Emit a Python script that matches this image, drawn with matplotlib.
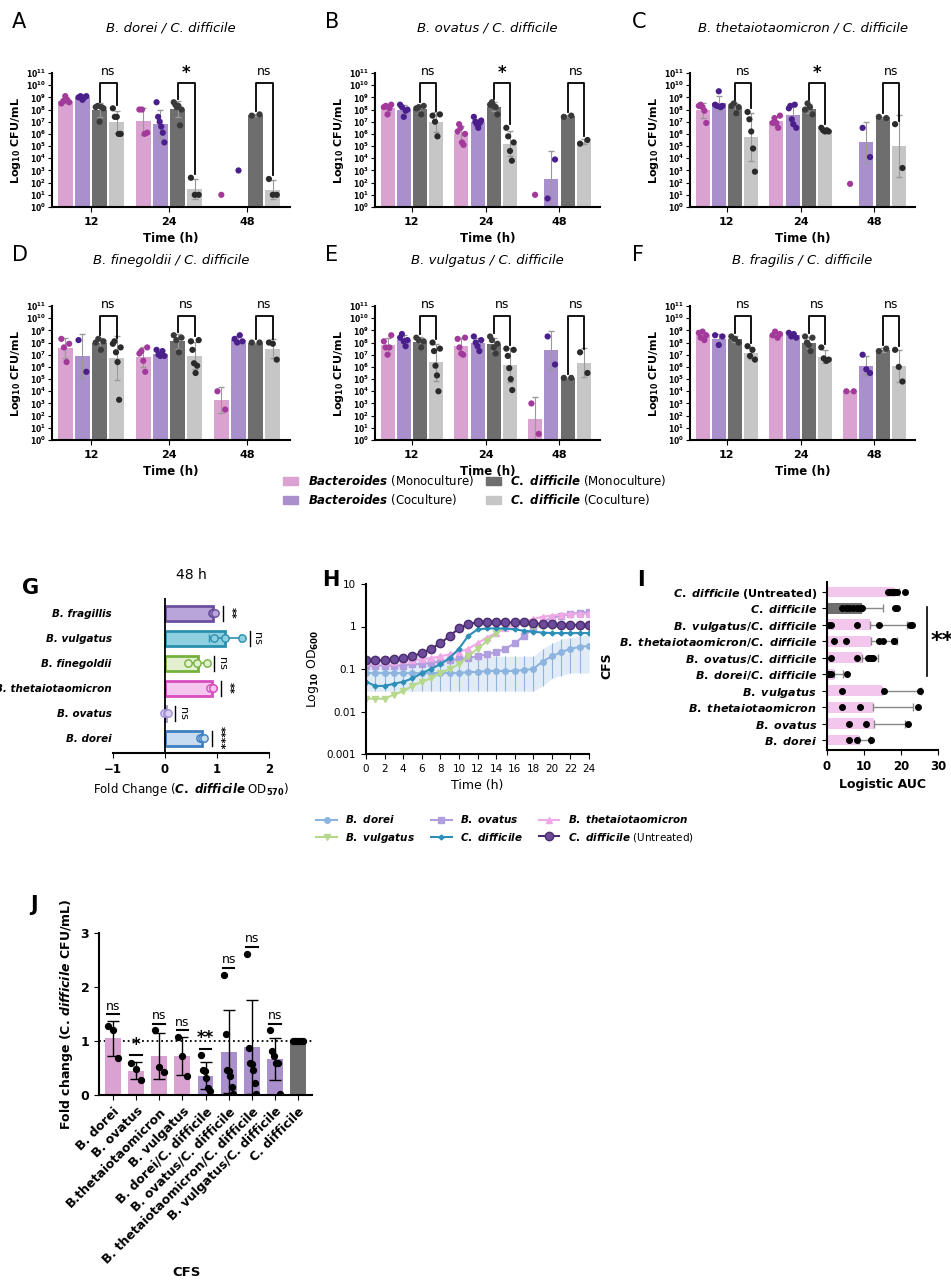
import numpy as np
import matplotlib
matplotlib.use("Agg")
import matplotlib.pyplot as plt
from matplotlib.patches import Patch
from matplotlib.lines import Line2D

plt.rcParams['font.family'] = ['DejaVu Sans']
plt.rcParams['font.weight'] = 'bold'
plt.rcParams['axes.labelweight'] = 'bold'
plt.rcParams['axes.linewidth'] = 1.5

W, H = 951, 1280
fig = plt.figure(figsize=(W/100, H/100), dpi=100)

def axpx(x0, y0, x1, y1):
    return fig.add_axes([x0/W, 1-y1/H, (x1-x0)/W, (y1-y0)/H])

# ---------------- Data: panels A-F (log10 CFU/mL) ----------------
times = ["12", "24", "48"]
groups = ["BM", "BC", "CM", "CC"]
panel_titles = ["B. dorei / C. difficile", "B. ovatus / C. difficile",
                "B. thetaiotaomicron / C. difficile", "B. finegoldii / C. difficile",
                "B. vulgatus / C. difficile", "B. fragilis / C. difficile"]
panel_sig = [["ns", "*", "ns"], ["ns", "*", "ns"], ["ns", "*", "ns"],
             ["ns", "ns", "ns"], ["ns", "ns", "ns"], ["ns", "ns", "ns"]]
A_pts = [[[8.5,8.7,9.1,8.8,8.6],[9.0,9.1,8.8,9.0,9.1],[8.2,8.3,7.0,8.2,8.1],[8.1,7.4,7.4,6.0,6.0]],
         [[8.0,8.0,6.0,6.1],[8.6,7.4,7.0,6.6,6.1,5.3],[8.6,8.4,8.2,8.3,6.7,8.0],[2.4,1.0,1.0]],
         [[1.0],[3.0],[7.5,7.6],[2.3,1.0,1.0]]]
B_pts = [[[8.2,8.3,7.6,8.1,8.4],[8.4,8.2,7.4,7.9,8.0],[8.1,8.2,7.6,8.3],[7.5,7.0,5.8,7.6]],
         [[6.2,6.8,6.5,5.3,5.1,6.0],[7.4,7.0,6.8,6.5,6.9,7.1],[8.4,8.6,8.3,8.2,7.6],[6.5,5.8,4.6,3.8,5.3]],
         [[1.0],[0.7,3.9],[7.4,7.5],[5.2,5.5]]]
C_pts = [[[8.3,8.4,8.2,7.9,6.9],[8.4,8.3,9.5,8.2,8.3],[8.3,8.5,7.7,8.2],[7.8,7.2,6.2,4.8,2.9]],
         [[6.9,7.3,6.9,6.5,7.5],[8.1,8.3,7.2,6.8,8.4,6.5],[8.0,8.5,8.2,7.6],[6.5,6.3,6.2,6.3,6.2]],
         [[1.9],[6.5,4.1],[7.4,7.3],[6.8,3.2]]]
D_pts = [[[8.3,7.6,6.4,7.9],[8.2,5.6],[8.0,8.3,7.4,8.1],[7.9,8.1,7.2,6.4,3.3,7.6]],
         [[7.1,7.3,6.5,5.6,7.6],[7.4,7.0,6.9,7.3,6.9],[8.6,8.2,7.2,8.4],[8.1,7.4,6.3,5.5,6.1,8.2]],
         [[4.0,2.5],[8.3,8.0,8.6,8.1],[8.0,8.0],[8.0,7.9,6.6]]]
E_pts = [[[8.1,7.6,7.0,7.6,8.6],[8.4,8.7,8.1,7.7,8.2],[8.4,8.2,7.6,8.1],[8.0,7.3,6.1,5.3,4.0,7.5]],
         [[8.3,7.6,7.1,7.0,8.4],[8.5,8.0,7.7,7.3,8.2],[8.5,8.2,7.6,7.1,7.9],[7.5,6.9,5.9,5.0,4.1,7.4]],
         [[3.0,0.5],[8.5,6.2],[5.1,5.1],[7.2,5.5]]]
F_pts = [[[8.8,8.4,8.9,8.2,8.6],[8.6,7.8,8.5],[8.5,8.3,8.0],[7.7,6.9,7.4,6.6]],
         [[8.6,8.9,8.4,8.7],[8.8,8.5,8.7,8.4],[8.5,8.0,7.8,7.3,8.4],[7.6,6.7,6.5,6.6]],
         [[4.0,4.0],[7.0,5.8,5.5],[7.3,7.5],[7.4,6.0,4.8]]]
all_pts = [A_pts, B_pts, C_pts, D_pts, E_pts, F_pts]

bar_cols = ['#d9a2d0', '#a98fcb', '#6e6e6e', '#c6c6c6']
pt_cols = ['#a3399a', '#4a1f8c', '#3a3a3a', '#2a2a2a']

pos = [(52, 73, 290, 207), (375, 73, 600, 207), (690, 73, 915, 207),
       (52, 306, 290, 440), (375, 306, 600, 440), (690, 306, 915, 440)]
letters_pos = [(12, 22), (325, 22), (632, 22), (12, 255), (325, 255), (632, 255)]
offs = [-0.33, -0.11, 0.11, 0.33]
bw = 0.19
for p in range(6):
    ax = axpx(*pos[p])
    pts = all_pts[p]
    for t in range(3):
        for g in range(4):
            v = np.array(pts[t][g])
            x = t + offs[g]
            if len(v) >= 2:
                m = v.mean(); sd = v.std(ddof=1)
                ax.bar(x, m, width=bw, color=bar_cols[g], zorder=1)
                ax.errorbar(x, m, yerr=sd, color='#999999', lw=0.8, capsize=2, zorder=2)
            jit = np.linspace(-0.05, 0.05, len(v)) if len(v) > 1 else [0]
            ax.scatter(x + np.array(jit), v, s=20, color=pt_cols[g], zorder=3, edgecolors='none')
        xl, xr = t + offs[2], t + offs[3]
        ytop = 10.2
        yl = max(max(pts[t][2]), np.mean(pts[t][2])) + 0.3
        yr = max(max(pts[t][3]), np.mean(pts[t][3])) + 0.3
        ax.plot([xl, xl, xr, xr], [yl, ytop, ytop, yr], color='k', lw=1.3, clip_on=False)
        s = panel_sig[p][t]
        ax.text((xl+xr)/2, ytop + (0.4 if s == 'ns' else 0.1), s, ha='center', va='bottom',
                fontsize=12 if s == '*' else 9, fontweight='normal' if s == 'ns' else 'bold')
    ax.set_ylim(0, 11)
    ax.set_xlim(-0.5, 2.55)
    ax.set_yticks(range(12))
    ax.set_yticklabels([r'$\mathbf{10^{%d}}$' % i for i in range(12)], fontsize=5.5)
    ax.tick_params(axis='y', length=3, pad=1.5)
    ax.set_xticks([0, 1, 2]); ax.set_xticklabels(times, fontsize=8)
    ax.set_xlabel("Time (h)", fontsize=8.5)
    ax.set_ylabel(r"Log$_{\mathbf{10}}$ CFU/mL", fontsize=8, labelpad=2)
    ax.spines['top'].set_visible(False); ax.spines['right'].set_visible(False)
    ax.set_title(panel_titles[p], style='italic', fontweight='normal', fontsize=9.5, pad=30)
    fig.text(letters_pos[p][0]/W, 1-letters_pos[p][1]/H, "ABCDEF"[p], fontsize=15,
             fontweight='normal', va='center')

leg_labels = [r"$\mathit{Bacteroides}$ (Monoculture)", r"$\mathit{Bacteroides}$ (Coculture)",
              r"$\mathit{C.\ difficile}$ (Monoculture)", r"$\mathit{C.\ difficile}$ (Coculture)"]
handles = [Patch(color=c) for c in bar_cols]
fig.legend(handles, leg_labels, loc='center', bbox_to_anchor=(475/W, 1-490/H), ncol=2,
           frameon=False, prop={'weight': 'normal', 'size': 8.5},
           columnspacing=1.0, handlelength=1.3, labelspacing=0.3)

# ---------------- Panel G ----------------
G_cats = ["B. dorei", "B. ovatus", "B. thetaiotaomicron", "B. finegoldii", "B. vulgatus", "B. fragillis"]
G_vals = [0.72, 0.02, 0.90, 0.63, 1.15, 0.93]
G_pts = [[0.68, 0.72, 0.75], [-0.02, 0.03, 0.05], [0.86, 0.92, 0.93],
         [0.45, 0.62, 0.80], [0.95, 1.15, 1.48], [0.90, 0.93, 0.96]]
G_err = [0.04, 0.04, 0.04, 0.18, 0.30, 0.04]
G_sig = ["****", "ns", "**", "ns", "ns", "**"]
G_edge = ['#3d7fc1', '#a38fd6', '#d64fbd', '#73b23e', '#2b8fae', '#6b4f9e']
G_fill = ['#c7dbf1', '#d9cff0', '#f7c6ee', '#e3f1d0', '#8fd0e0', '#b9a5d8']
ax = axpx(113, 598, 269, 753)
y = np.arange(len(G_cats))
ax.barh(y, G_vals, height=0.6, color=G_fill, edgecolor=G_edge, linewidth=2, zorder=1)
for i in range(len(G_cats)):
    ax.errorbar(G_vals[i], i, xerr=G_err[i], color=G_edge[i], capsize=3, lw=1.2, zorder=2)
    ax.scatter(G_pts[i], [i]*3, s=28, color=G_fill[i], edgecolors=G_edge[i], zorder=3)
    xs = max(G_pts[i]) + 0.15
    ax.plot([xs, xs], [i-0.3, i+0.3], color='k', lw=1)
    ax.text(xs + 0.05, i, G_sig[i], rotation=-90, va='center', ha='left', fontsize=8,
            fontweight='normal' if G_sig[i] == 'ns' else 'bold')
ax.axvline(0, color='k', lw=1.3)
ax.set_xlim(-1, 2); ax.set_ylim(-0.6, 5.6)
ax.set_xticks([-1, 0, 1, 2]); ax.tick_params(labelsize=8.5)
ax.set_yticks(y); ax.set_yticklabels(G_cats, style='italic', fontsize=7.5)
ax.tick_params(axis='y', length=0, pad=1)
ax.spines['top'].set_visible(False); ax.spines['right'].set_visible(False); ax.spines['left'].set_visible(False)
ax.set_xlabel(r"Fold Change ($\mathit{C.\ difficile}$ OD$_{570}$)", fontsize=8.5, fontweight='normal')
ax.set_title("48 h", fontsize=10, pad=14)
fig.text(22/W, 1-588/H, "G", fontsize=15, va='center')

# ---------------- Panel H ----------------
hours = list(range(25))
H_series = {
    "B. dorei": [0.08]*11 + [0.085, 0.085, 0.09, 0.09, 0.09, 0.09, 0.095, 0.1, 0.15, 0.2, 0.25, 0.3, 0.33, 0.35],
    "B. ovatus": [0.12, 0.12, 0.12, 0.12, 0.12, 0.13, 0.13, 0.14, 0.15, 0.16, 0.17, 0.18, 0.2, 0.22, 0.25, 0.3, 0.4, 0.6, 0.9, 1.3, 1.6, 1.8, 2.0, 2.1, 2.2],
    "B. thetaiotaomicron": [0.15, 0.15, 0.15, 0.15, 0.16, 0.16, 0.17, 0.18, 0.2, 0.22, 0.25, 0.3, 0.4, 0.55, 0.7, 0.9, 1.1, 1.3, 1.5, 1.7, 1.8, 1.9, 2.0, 2.0, 2.0],
    "B. vulgatus": [0.02, 0.02, 0.02, 0.025, 0.03, 0.04, 0.05, 0.06, 0.08, 0.1, 0.13, 0.2, 0.3, 0.45, 0.7, 1.0, 1.3, 1.2, 1.0, 1.0, 1.0, 1.0, 1.0, 1.0, 1.0],
    "C. difficile": [0.05, 0.04, 0.04, 0.045, 0.05, 0.06, 0.08, 0.1, 0.13, 0.18, 0.3, 0.6, 0.85, 0.9, 0.9, 0.9, 0.85, 0.8, 0.75, 0.72, 0.7, 0.7, 0.7, 0.7, 0.7],
    "C. difficile (Untreated)": [0.16, 0.16, 0.16, 0.17, 0.18, 0.2, 0.24, 0.3, 0.4, 0.6, 0.9, 1.15, 1.25, 1.25, 1.25, 1.25, 1.25, 1.25, 1.2, 1.15, 1.12, 1.1, 1.1, 1.1, 1.1],
}
H_lo = [0.03]*19 + [0.04, 0.06, 0.07, 0.08, 0.08, 0.08]
H_hi = [0.2]*19 + [0.3, 0.4, 0.5, 0.55, 0.6, 0.65]
H_style = {"B. dorei": ('#8db4de', 'o', 4), "B. ovatus": ('#b19ee0', 's', 4),
           "B. thetaiotaomicron": ('#f0a8e6', '^', 4), "B. vulgatus": ('#b5d88a', 'v', 4),
           "C. difficile": ('#2b8fb8', 'D', 2.5), "C. difficile (Untreated)": ('#4b2c6e', 'o', 6)}
ax = axpx(366, 584, 589, 754)
ax.fill_between(hours, H_lo, H_hi, color='#8db4de', alpha=0.25, lw=0)
ax.vlines(hours, H_lo, H_hi, color='#8db4de', lw=0.8)
hh = []
for name, vals in H_series.items():
    c, m, ms = H_style[name]
    l, = ax.plot(hours, vals, color=c, marker=m, ms=ms, lw=1.5,
                 mfc=c if name != "C. difficile (Untreated)" else '#6b4b9a', mec=c)
    hh.append(l)
ax.set_yscale('log'); ax.set_ylim(0.001, 10); ax.set_xlim(0, 24)
ax.set_xticks(range(0, 25, 2)); ax.tick_params(labelsize=7.5)
ax.set_yticks([0.001, 0.01, 0.1, 1, 10]); ax.set_yticklabels(["0.001", "0.01", "0.1", "1", "10"])
for lab in ax.get_xticklabels() + ax.get_yticklabels():
    lab.set_fontweight('normal')
ax.minorticks_off()
ax.spines['top'].set_visible(False); ax.spines['right'].set_visible(False)
ax.set_xlabel("Time (h)", fontsize=9, fontweight='normal')
ax.set_ylabel(r"Log$_{10}$ OD$_{600}$", fontsize=9, fontweight='normal')
order = ["B. dorei", "B. vulgatus", "B. ovatus", "C. difficile", "B. thetaiotaomicron", "C. difficile (Untreated)"]
names = list(H_series.keys())
fig.legend([hh[names.index(n)] for n in order],
           [r"$\mathit{B.\ dorei}$", r"$\mathit{B.\ vulgatus}$", r"$\mathit{B.\ ovatus}$", r"$\mathit{C.\ difficile}$",
            r"$\mathit{B.\ thetaiotaomicron}$", r"$\mathit{C.\ difficile}$ (Untreated)"],
           loc='center', bbox_to_anchor=(505/W, 1-829/H), ncol=3, frameon=False,
           prop={'weight': 'normal', 'size': 7.5}, columnspacing=1.5)
fig.text(322/W, 1-580/H, "H", fontsize=15, va='center')

# ---------------- Panel I ----------------
I_cats = ["C. difficile (Untreated)", "C. difficile", "B. vulgatus/C. difficile",
          "B. thetaiotaomicron/C. difficile", "B. ovatus/C. difficile", "B. dorei/C. difficile",
          "B. vulgatus", "B. thetaiotaomicron", "B. ovatus", "B. dorei"]
I_pts = [[16.5, 17, 17.5, 18, 18.5, 19, 21, 17.8, 16.8],
         [4, 5, 6, 7, 9, 9.5, 8, 18.5, 19],
         [0.5, 1, 8, 14, 22.5, 23],
         [2, 5, 14, 15, 18, 18],
         [1, 8, 11, 12, 12.5, 11.5],
         [0.2, 0.5, 1, 5.5],
         [4, 15.5, 25],
         [4, 9, 24.5],
         [6, 10.5, 22],
         [6, 8, 12]]
ax = axpx(827, 582, 938, 750)
yy = np.arange(len(I_cats))[::-1]
for i in range(len(I_cats)):
    v = np.array(I_pts[i]); m = v.mean(); sd = v.std(ddof=1)
    col = '#6e6e6e' if i == 1 else '#f3c6ee'
    ax.barh(yy[i], m, height=0.65, color=col, zorder=1)
    ax.errorbar(m, yy[i], xerr=[[0], [sd]], color='#888888', capsize=3, lw=1, zorder=2)
    ax.scatter(v, [yy[i]]*len(v), s=16, color='k', zorder=3)
ax.plot([27, 27], [yy[1]+0.1, yy[5]-0.1], color='k', lw=1.2, clip_on=False)
ax.text(28, (yy[1]+yy[5])/2, "**", fontsize=16, va='center', ha='left')
ax.set_xlim(0, 30); ax.set_ylim(-0.6, 9.6)
ax.set_xticks([0, 10, 20, 30]); ax.tick_params(labelsize=8.5)
ax.set_yticks(yy); ax.set_yticklabels(
    [r"$\mathbf{\mathit{C.\ difficile}}$ (Untreated)", r"$\mathit{C.\ difficile}$"] +
    [r"$\mathit{%s}$" % c.replace(" ", r"\ ") for c in I_cats[2:]], fontsize=8)
ax.spines['top'].set_visible(False); ax.spines['right'].set_visible(False)
ax.set_xlabel("Logistic AUC", fontsize=9)
ax.set_ylabel("CFS", fontsize=9, labelpad=4)
fig.text(637/W, 1-580/H, "I", fontsize=15, va='center')

# ---------------- Panel J ----------------
J_cats = ["B. dorei", "B. ovatus", "B.thetaiotaomicron", "B. vulgatus", "B. dorei/C. difficile",
          "B. ovatus/C. difficile", "B. thetaiotaomicron/C. difficile", "B. vulgatus/C. difficile", "C. difficile"]
J_vals = [1.05, 0.45, 0.72, 0.72, 0.36, 0.80, 0.89, 0.66, 1.0]
J_pts = [[1.27, 1.2, 0.68], [0.6, 0.48, 0.28], [1.2, 0.52, 0.43], [1.07, 0.73, 0.36],
         [0.74, 0.47, 0.45, 0.32, 0.13, 0.08], [2.23, 1.13, 0.46, 0.44, 0.36, 0.15, 0.01],
         [2.62, 0.87, 0.6, 0.57, 0.46, 0.22, 0.02], [1.2, 0.82, 0.73, 0.6, 0.6, 0.01], [1, 1, 1, 1, 1, 1]]
J_sig = ["ns", "*", "ns", "ns", "**", "ns", "ns", "ns", ""]
J_cols = ['#d9a2d0']*4 + ['#a98fcb']*4 + ['#6e6e6e']
ax = axpx(99, 933, 312, 1095)
x = np.arange(len(J_cats))
ax.bar(x, J_vals, width=0.68, color=J_cols, zorder=1)
for i in range(len(J_cats)):
    v = np.array(J_pts[i]); sd = v.std(ddof=1)
    if sd > 0:
        ax.errorbar(i, J_vals[i], yerr=sd, color='k', capsize=4, lw=1, zorder=2)
    jit = np.linspace(-0.2, 0.2, len(v))
    ax.scatter(i + jit, v, s=18, color='k', zorder=3)
    if J_sig[i]:
        top = max(v.max(), J_vals[i] + sd) + 0.12
        ax.plot([i-0.25, i+0.25], [top, top], color='k', lw=1.5)
        ax.text(i, top + 0.03, J_sig[i], ha='center', va='bottom', fontsize=9 if J_sig[i] == 'ns' else 12,
                fontweight='normal' if J_sig[i] == 'ns' else 'bold')
ax.axhline(1, color='k', ls=':', lw=1.3, zorder=0)
ax.set_ylim(0, 3); ax.set_xlim(-0.6, 8.6)
ax.set_yticks([0, 1, 2, 3]); ax.tick_params(labelsize=9)
ax.set_xticks(x); ax.set_xticklabels(J_cats, rotation=45, ha='right', rotation_mode='anchor', fontsize=9)
ax.spines['top'].set_visible(False); ax.spines['right'].set_visible(False)
ax.set_ylabel(r"Fold change (C. $\mathit{difficile}$ CFU/mL)", fontsize=9)
fig.text(187/W, 1-1272/H, "CFS", fontsize=9.5, ha='center', va='center', fontweight='bold')
fig.text(30/W, 1-905/H, "J", fontsize=15, va='center')

fig.savefig("out.png", dpi=100)
